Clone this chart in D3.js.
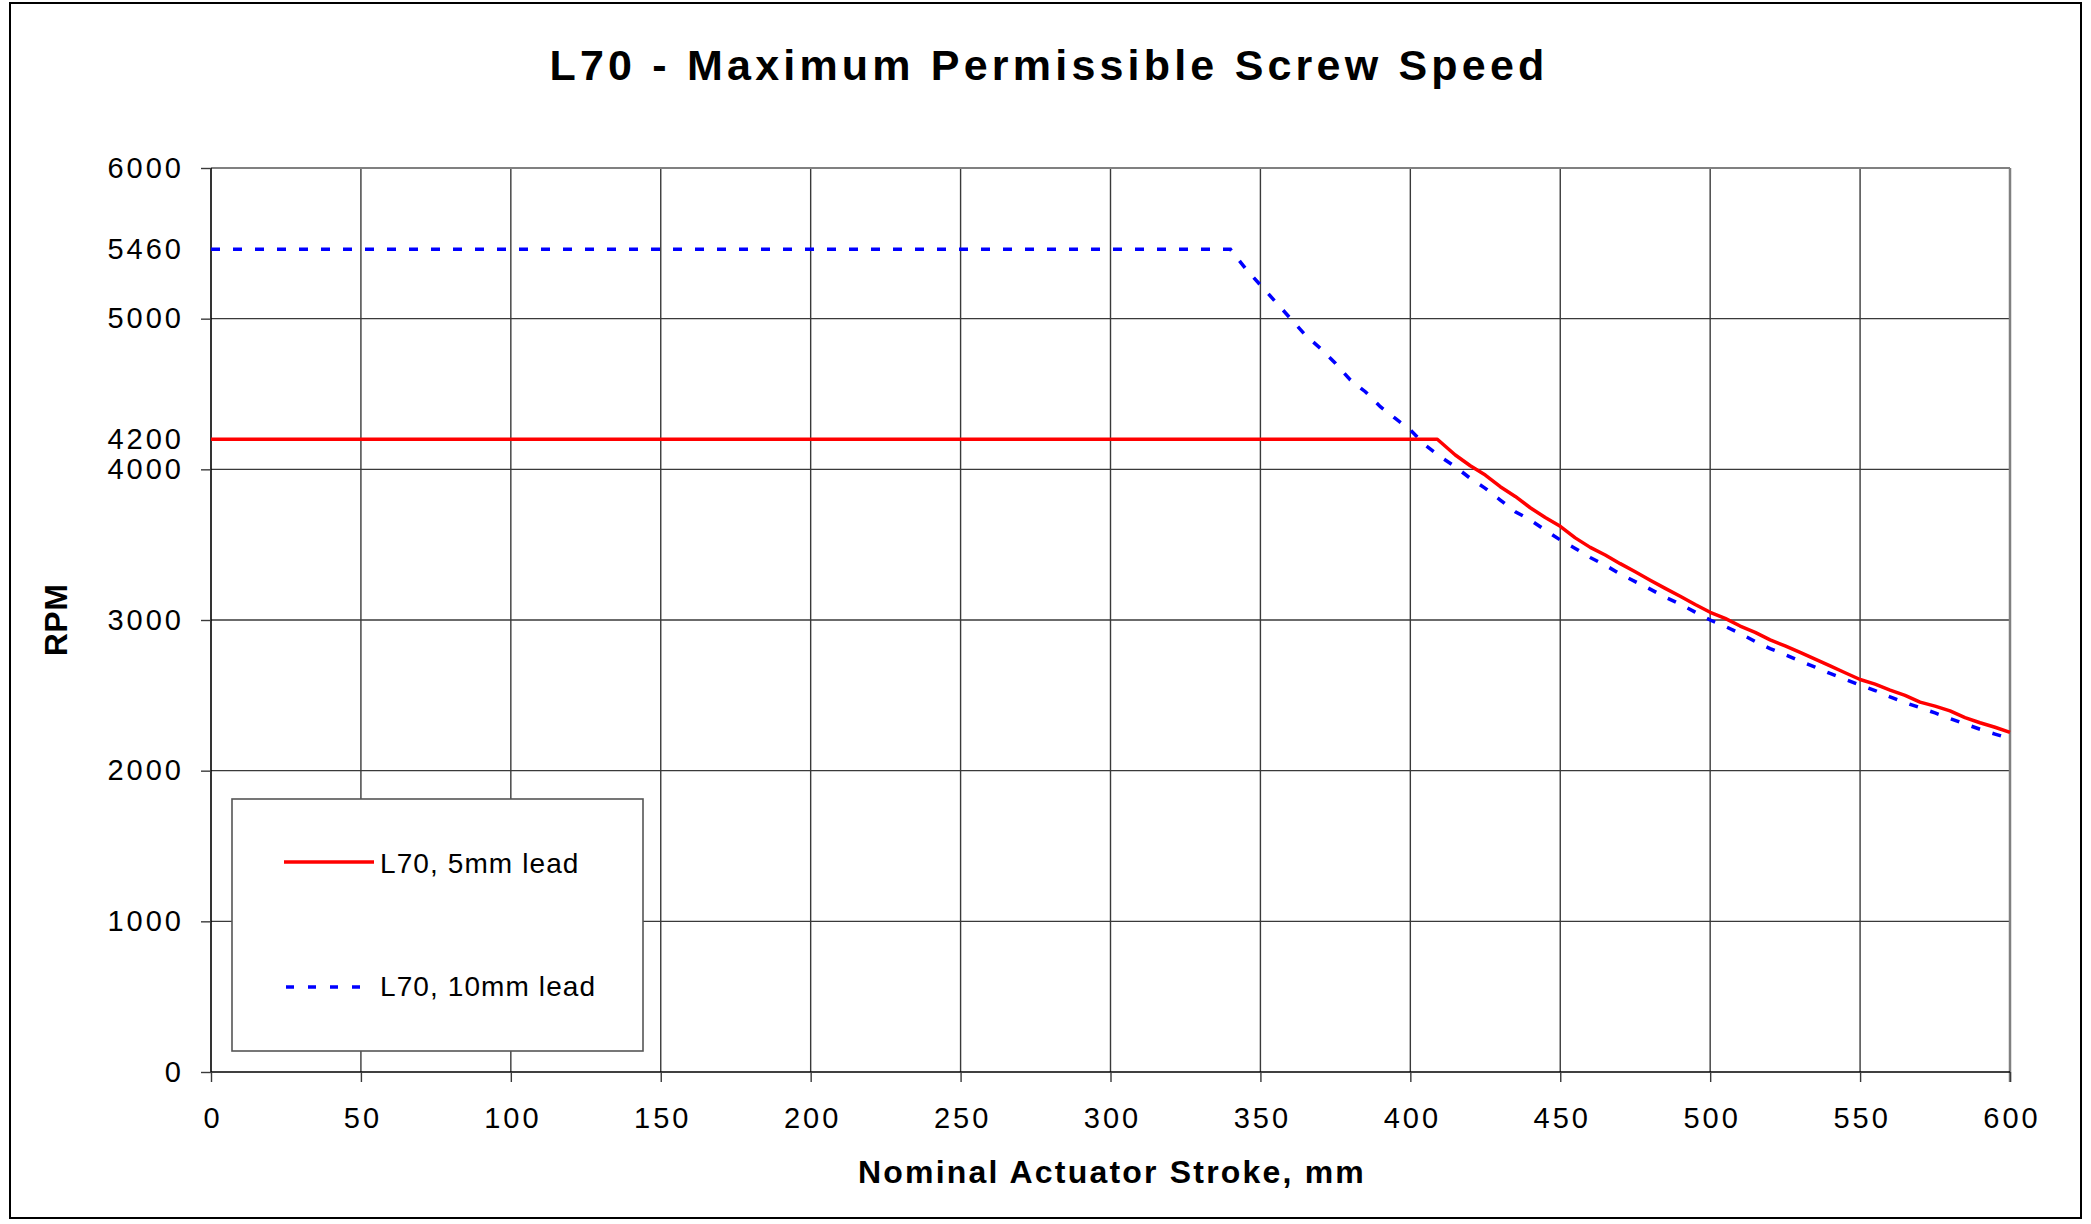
<!DOCTYPE html>
<html>
<head>
<meta charset="utf-8">
<script src="https://cdn.jsdelivr.net/npm/d3@7/dist/d3.min.js"></script>
<style>
  html, body { margin: 0; padding: 0; background: #fff; }
  svg { display: block; }
  text { font-family: "Liberation Sans", Arial, Helvetica, sans-serif; fill: #000; }
</style>
</head>
<body>
<svg id="chart" width="2091" height="1224"></svg>
<script>
// ---------------- DATA ----------------
const chartTitle = "L70 - Maximum Permissible Screw Speed";
const xTitle = "Nominal Actuator Stroke, mm";
const yTitle = "RPM";

const xTicks = [0, 50, 100, 150, 200, 250, 300, 350, 400, 450, 500, 550, 600];
const yTicks = [0, 1000, 2000, 3000, 4000, 5000, 6000];
const yExtraLabels = [4200, 5460];

const seriesNames = ["L70, 5mm lead", "L70, 10mm lead"];

// L70, 5mm lead
const stroke5 = [0, 409, 415, 420, 425, 430, 435, 440, 445, 450, 455, 460, 465, 470, 475, 480, 485, 490, 495, 500,
                 505, 510, 515, 520, 525, 530, 535, 540, 545, 550, 555, 560, 565, 570, 575, 580, 585, 590, 595, 600];
const rpm5 =    [4200, 4200, 4095, 4024, 3962, 3885, 3820, 3745, 3680, 3622, 3545, 3482, 3431, 3374, 3320, 3264, 3210, 3158, 3103, 3051,
                 3011, 2960, 2918, 2868, 2828, 2785, 2740, 2695, 2650, 2605, 2574, 2535, 2500, 2455, 2428, 2397, 2352, 2318, 2288, 2254];

// L70, 10mm lead
const stroke10 = [0, 340, 345, 350, 355, 360, 365, 370, 375, 380, 385, 390, 395, 400, 405, 410, 415, 420, 425, 430,
                  435, 440, 445, 450, 455, 460, 465, 470, 475, 480, 485, 490, 495, 500, 505, 510, 515, 520, 525, 530,
                  535, 540, 545, 550, 555, 560, 565, 570, 575, 580, 585, 590, 595, 600];
const rpm10 =    [5460, 5460, 5334, 5223, 5113, 5002, 4891, 4803, 4704, 4593, 4515, 4416, 4338, 4261, 4161, 4084, 4017, 3940, 3874, 3796,
                  3719, 3664, 3597, 3531, 3475, 3415, 3364, 3305, 3255, 3205, 3152, 3105, 3052, 3000, 2958, 2910, 2858, 2810, 2770, 2727,
                  2687, 2645, 2607, 2568, 2532, 2490, 2452, 2418, 2383, 2346, 2310, 2275, 2243, 2212];

// ---------------- LAYOUT ----------------
const W = 2091, H = 1224;
const plot = { left: 211, right: 2010, top: 168, bottom: 1072 };

const svg = d3.select("#chart");

const x = d3.scaleLinear().domain([0, 600]).range([plot.left, plot.right]);
const y = d3.scaleLinear().domain([0, 6000]).range([plot.bottom, plot.top]);

// white background + outer frame
svg.append("rect").attr("x", 0).attr("y", 0).attr("width", W).attr("height", H).attr("fill", "#fff");
svg.append("rect").attr("x", 10).attr("y", 3).attr("width", 2071).attr("height", 1215)
  .attr("fill", "none").attr("stroke", "#000").attr("stroke-width", 2);

// gridlines
const grid = svg.append("g").attr("class", "grid");
grid.selectAll("line.v").data(xTicks.filter(d => d > 0 && d < 600)).enter().append("line")
  .attr("x1", d => x(d)).attr("x2", d => x(d))
  .attr("y1", plot.top).attr("y2", plot.bottom)
  .attr("stroke", "#3a3a3a").attr("stroke-width", 1.4);
grid.selectAll("line.h").data(yTicks.filter(d => d > 0 && d < 6000)).enter().append("line")
  .attr("x1", plot.left).attr("x2", plot.right)
  .attr("y1", d => y(d)).attr("y2", d => y(d))
  .attr("stroke", "#3a3a3a").attr("stroke-width", 1.4);

// top and right plot borders (grey)
svg.append("line").attr("x1", plot.left).attr("x2", plot.right).attr("y1", plot.top).attr("y2", plot.top)
  .attr("stroke", "#808080").attr("stroke-width", 2);
svg.append("line").attr("x1", plot.right).attr("x2", plot.right).attr("y1", plot.top).attr("y2", plot.bottom + 10)
  .attr("stroke", "#808080").attr("stroke-width", 2.5);

// axes
const tickFont = { size: 29, ls: 3 };

const xAxis = d3.axisBottom(x).tickValues(xTicks).tickSize(10).tickPadding(25).tickFormat(d3.format("d"));
const gx = svg.append("g").attr("transform", `translate(0,${plot.bottom})`).call(xAxis);
gx.select(".domain").attr("stroke", "#000").attr("stroke-width", 1.6).attr("d", `M${plot.left},0H${plot.right}`);
gx.selectAll(".tick line").attr("stroke", "#3a3a3a").attr("stroke-width", 1.4);
gx.selectAll(".tick text").attr("font-size", tickFont.size).attr("letter-spacing", tickFont.ls)
  .attr("dx", tickFont.ls / 2).attr("fill", "#000")
  .style("font-family", '"Liberation Sans", Arial, sans-serif');

const allYLabels = yTicks.concat(yExtraLabels).sort((a, b) => a - b);
const yAxis = d3.axisLeft(y).tickValues(allYLabels).tickSize(10).tickPadding(17).tickFormat(d3.format("d"));
const gy = svg.append("g").attr("transform", `translate(${plot.left},0)`).call(yAxis);
gy.select(".domain").attr("stroke", "#000").attr("stroke-width", 1.6).attr("d", `M0,${plot.top}V${plot.bottom}`);
gy.selectAll(".tick line").attr("stroke", "#3a3a3a").attr("stroke-width", 1.4)
  .attr("display", d => yExtraLabels.includes(d) ? "none" : null);
gy.selectAll(".tick text").attr("font-size", tickFont.size).attr("letter-spacing", tickFont.ls)
  .attr("fill", "#000")
  .style("font-family", '"Liberation Sans", Arial, sans-serif');

// series lines
const line = d3.line().x(d => x(d[0])).y(d => y(d[1]));
const data5 = stroke5.map((s, i) => [s, rpm5[i]]);
const data10 = stroke10.map((s, i) => [s, rpm10[i]]);

svg.append("path").datum(data10).attr("d", line)
  .attr("fill", "none").attr("stroke", "#0000ff").attr("stroke-width", 3.5)
  .attr("stroke-dasharray", "9,13");
svg.append("path").datum(data5).attr("d", line)
  .attr("fill", "none").attr("stroke", "#ff0000").attr("stroke-width", 3.5)
  .attr("stroke-linejoin", "round");

// legend
const lg = svg.append("g");
lg.append("rect").attr("x", 232).attr("y", 799).attr("width", 411).attr("height", 252)
  .attr("fill", "#fff").attr("stroke", "#555").attr("stroke-width", 1.6);
lg.append("line").attr("x1", 284).attr("x2", 374).attr("y1", 862).attr("y2", 862)
  .attr("stroke", "#ff0000").attr("stroke-width", 3.5);
lg.append("line").attr("x1", 286).attr("x2", 364).attr("y1", 987).attr("y2", 987)
  .attr("stroke", "#0000ff").attr("stroke-width", 3.5).attr("stroke-dasharray", "8,14");
lg.append("text").attr("x", 380).attr("y", 873).attr("font-size", 28).attr("letter-spacing", 1.1)
  .text(seriesNames[0]);
lg.append("text").attr("x", 380).attr("y", 996).attr("font-size", 28).attr("letter-spacing", 1.1)
  .text(seriesNames[1]);

// titles
svg.append("text").attr("x", 1049).attr("y", 80).attr("text-anchor", "middle")
  .attr("font-size", 43).attr("font-weight", "bold").attr("letter-spacing", 4.2)
  .text(chartTitle);
svg.append("text").attr("x", 1112).attr("y", 1183).attr("text-anchor", "middle")
  .attr("font-size", 32).attr("font-weight", "bold").attr("letter-spacing", 2.2)
  .text(xTitle);
svg.append("text").attr("transform", "translate(67,620) rotate(-90)").attr("text-anchor", "middle")
  .attr("font-size", 32).attr("font-weight", "bold").attr("letter-spacing", 0.5)
  .text(yTitle);
</script>
</body>
</html>
